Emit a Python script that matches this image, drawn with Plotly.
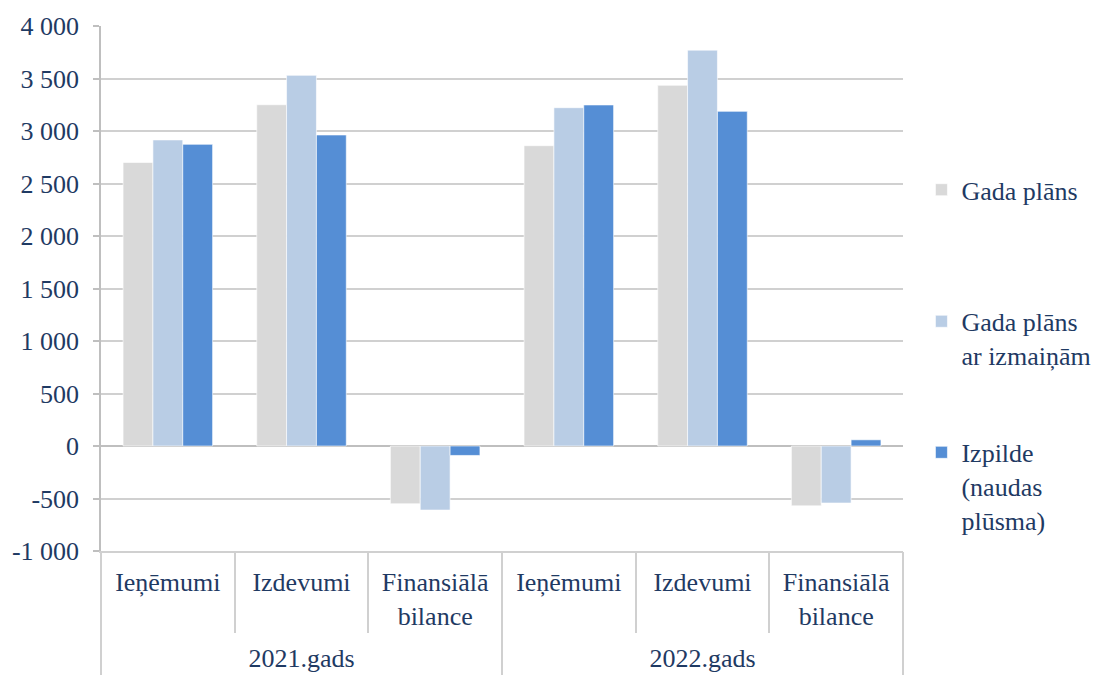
import plotly.graph_objects as go

# ---- data ----
years = ["2021.gads"] * 3 + ["2022.gads"] * 3
categories = ["Ieņēmumi", "Izdevumi", "Finansiālā<br>bilance"] * 2
gada_plans = [2700, 3250, -550, 2860, 3435, -570]
gada_plans_izm = [2915, 3530, -610, 3222, 3770, -543]
izpilde = [2873, 2962, -90, 3248, 3187, 59]
series_names = ["Gada plāns", "Gada plāns<br>ar izmaiņām", "Izpilde<br>(naudas<br>plūsma)"]
series_colors = ["#D9D9D9", "#B9CDE5", "#558ED5"]
y_tickvals = [-1000, -500, 0, 500, 1000, 1500, 2000, 2500, 3000, 3500, 4000]
y_ticktext = ["-1 000", "-500", "0", "500", "1 000", "1 500", "2 000",
              "2 500", "3 000", "3 500", "4 000"]

FONT = "'Liberation Serif', 'Times New Roman', 'DejaVu Serif', serif"
TXT = "#1F3A63"
GRID = "#D0D0D0"

keys = [f"{y}|{c}" for y, c in zip(years, categories)]
year_groups = list(dict.fromkeys(years))

fig = go.Figure()
legends = ["legend", "legend2", "legend3"]
for vals, name, col, lg in zip([gada_plans, gada_plans_izm, izpilde],
                               series_names, series_colors, legends):
    fig.add_trace(go.Bar(
        x=keys, y=vals, name=name, legend=lg,
        marker=dict(color=col, line=dict(color="rgba(255,255,255,0.6)", width=1)),
    ))

# invisible helper trace for the outer (year) level axis
fig.add_trace(go.Scatter(x=years, y=izpilde, xaxis="x3", mode="markers",
                         marker=dict(opacity=0), showlegend=False, hoverinfo="skip"))

fig.update_layout(
    width=1095, height=675,
    margin=dict(l=101, r=192, t=26, b=124, autoexpand=False),
    paper_bgcolor="white", plot_bgcolor="white",
    font=dict(family=FONT, size=26, color=TXT),
    barmode="group", bargap=0.33, bargroupgap=0,
    showlegend=True,
    xaxis=dict(
        type="category", categoryorder="array", categoryarray=keys,
        tickvals=keys, ticktext=categories, range=[-0.5, 5.5],
        showgrid=False, showline=True, automargin=False,
        linecolor=GRID, linewidth=1.5,
        ticks="outside", tickson="boundaries", ticklen=80,
        tickcolor=GRID, tickwidth=1.5, ticklabelstandoff=7,
        tickfont=dict(family=FONT, size=26, color=TXT),
    ),
    xaxis3=dict(
        type="category", overlaying="x", anchor="y", side="bottom",
        categoryorder="array", categoryarray=year_groups, range=[-0.5, 1.5],
        ticks="outside", tickson="boundaries", ticklen=124,
        tickcolor=GRID, tickwidth=1.5, ticklabelstandoff=89,
        showgrid=False, showline=False, zeroline=False, automargin=False,
        tickfont=dict(family=FONT, size=26, color=TXT),
    ),
    yaxis=dict(
        range=[-1000, 4000], tickvals=y_tickvals, ticktext=y_ticktext,
        showgrid=True, gridcolor=GRID, gridwidth=1.5, automargin=False,
        zeroline=True, zerolinecolor="#BFBFBF", zerolinewidth=1.5,
        showline=True, linecolor="#BFBFBF", linewidth=1.5,
        ticks="outside", ticklen=6, tickcolor="#BFBFBF", tickwidth=1.5,
        ticklabelstandoff=9,
        tickfont=dict(family=FONT, size=26, color=TXT),
    ),
)
common = dict(xanchor="left", yanchor="middle", valign="top",
              font=dict(family=FONT, size=26, color=TXT),
              bgcolor="rgba(0,0,0,0)")
fig.update_layout(
    legend=dict(x=1.023, y=0.688, **common),
    legend2=dict(x=1.023, y=0.405, **common),
    legend3=dict(x=1.023, y=0.123, **common),
)

fig.write_html("out.html", config={"displayModeBar": False},
               post_script="document.body.style.margin='0';document.body.style.overflow='hidden';")
